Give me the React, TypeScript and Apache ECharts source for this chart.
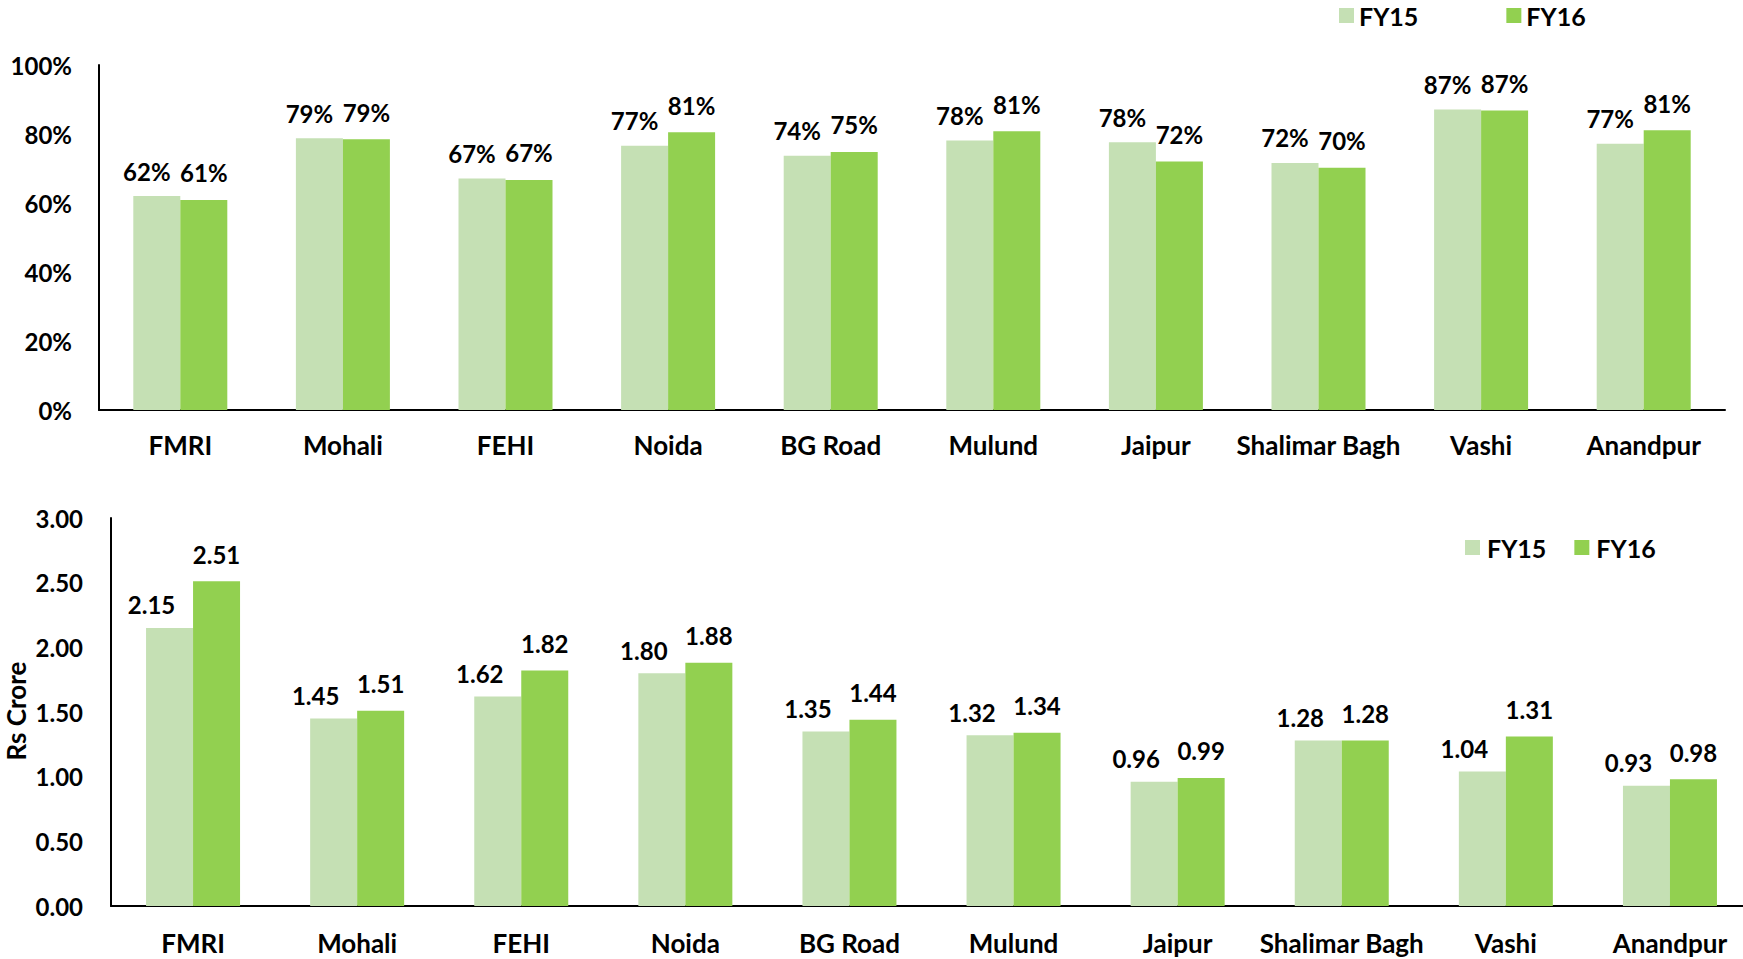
import React, { useEffect, useRef } from "react";
import * as echarts from "echarts";

const categories = ["FMRI", "Mohali", "FEHI", "Noida", "BG Road", "Mulund", "Jaipur", "Shalimar Bagh", "Vashi", "Anandpur"];
const seriesNames = ["FY15", "FY16"];
const occupancyFY15 = [0.62, 0.788, 0.671, 0.766, 0.737, 0.781, 0.776, 0.716, 0.871, 0.772];
const occupancyFY16 = [0.609, 0.785, 0.667, 0.805, 0.748, 0.808, 0.72, 0.702, 0.868, 0.811];
const revenueFY15 = [2.15, 1.45, 1.62, 1.8, 1.35, 1.32, 0.96, 1.28, 1.04, 0.93];
const revenueFY16 = [2.51, 1.51, 1.82, 1.88, 1.44, 1.34, 0.99, 1.28, 1.31, 0.98];
const occupancyTicks = [0, 0.2, 0.4, 0.6, 0.8, 1.0];
const revenueTicks = [0, 0.5, 1.0, 1.5, 2.0, 2.5, 3.0];
const revenueAxisTitle = "Rs Crore";

const LIGHT = "#C5E0B4";
const GREEN = "#92D050";
const FONT = "Lato, 'Open Sans', sans-serif";

export default function App() {
  const ref = useRef<HTMLDivElement>(null);
  useEffect(() => {
    if (!ref.current) return;
    const chart = echarts.init(ref.current, null, { renderer: "svg" });
    const txt = { fontFamily: FONT, fontWeight: "bold" as const, fontSize: 24, color: "#000" };
    const cat = { ...txt, fontSize: 26 };
    const leg = { ...txt, fontSize: 25 };
    const axisLine = { show: true, lineStyle: { color: "#000", width: 2 } };
    const option: any = {
      animation: false,
      backgroundColor: "#fff",
      textStyle: { fontFamily: FONT },
      graphic: [
        {
          type: "text",
          x: 16,
          y: 711,
          rotation: Math.PI / 2,
          style: {
            text: revenueAxisTitle,
            fill: "#000",
            font: `bold 26px ${FONT}`,
            align: "center",
            verticalAlign: "middle",
          },
        },
      ],
      legend: [
        {
          data: seriesNames,
          left: 1334,
          top: -2,
          itemWidth: 15,
          itemHeight: 15,
          itemGap: 88,
          icon: "rect",
          textStyle: { ...leg, padding: [0, 0, 0, 0] },
        },
        {
          data: seriesNames,
          left: 1460,
          top: 530,
          itemWidth: 15,
          itemHeight: 15,
          itemGap: 28,
          icon: "rect",
          textStyle: { ...leg, padding: [0, 0, 0, 2] },
        },
      ],
      grid: [
        { left: 99, top: 65, width: 1626, height: 345, containLabel: false, outerBoundsMode: "none" },
        { left: 111, top: 518, width: 1641, height: 388, containLabel: false, outerBoundsMode: "none" },
      ],
      xAxis: [
        {
          type: "category",
          gridIndex: 0,
          data: categories,
          axisLine,
          axisTick: { show: false },
          axisLabel: { ...cat, interval: 0, margin: 22 },
        },
        {
          type: "category",
          gridIndex: 1,
          data: categories,
          axisLine,
          axisTick: { show: false },
          axisLabel: { ...cat, interval: 0, margin: 24 },
        },
      ],
      yAxis: [
        {
          type: "value",
          gridIndex: 0,
          min: occupancyTicks[0],
          max: occupancyTicks[occupancyTicks.length - 1],
          interval: 0.2,
          axisLine,
          axisTick: { show: false },
          splitLine: { show: false },
          axisLabel: { ...txt, margin: 27, formatter: (v: number) => Math.round(v * 100) + "%" },
        },
        {
          type: "value",
          gridIndex: 1,
          min: revenueTicks[0],
          max: revenueTicks[revenueTicks.length - 1],
          interval: 0.5,
          axisLine,
          axisTick: { show: false },
          splitLine: { show: false },
          axisLabel: { ...txt, margin: 28, formatter: (v: number) => v.toFixed(2) },
        },
      ],
      series: [
        {
          name: "FY15",
          type: "bar",
          xAxisIndex: 0,
          yAxisIndex: 0,
          data: occupancyFY15,
          barWidth: 47,
          barGap: "0%",
          itemStyle: { color: LIGHT },
          label: {
            show: true,
            position: "top",
            distance: 13,
            offset: [-10, 0],
            ...txt,
            formatter: (p: any) => Math.round(p.value * 100) + "%",
          },
        },
        {
          name: "FY16",
          type: "bar",
          xAxisIndex: 0,
          yAxisIndex: 0,
          data: occupancyFY16,
          barWidth: 47,
          barGap: "0%",
          itemStyle: { color: GREEN },
          label: {
            show: true,
            position: "top",
            distance: 15,
            ...txt,
            formatter: (p: any) => Math.round(p.value * 100) + "%",
          },
        },
        {
          name: "FY15",
          type: "bar",
          xAxisIndex: 1,
          yAxisIndex: 1,
          data: revenueFY15,
          barWidth: 47,
          barGap: "0%",
          itemStyle: { color: LIGHT },
          label: {
            show: true,
            position: "top",
            distance: 11,
            offset: [-18, 0],
            ...txt,
            formatter: (p: any) => p.value.toFixed(2),
          },
        },
        {
          name: "FY16",
          type: "bar",
          xAxisIndex: 1,
          yAxisIndex: 1,
          data: revenueFY16,
          barWidth: 47,
          barGap: "0%",
          itemStyle: { color: GREEN },
          label: {
            show: true,
            position: "top",
            distance: 15,
            ...txt,
            formatter: (p: any) => p.value.toFixed(2),
          },
        },
      ],
    };
    chart.setOption(option);
    return () => chart.dispose();
  }, []);
  return (
    <div
      ref={ref}
      style={{ position: "fixed", left: 0, top: 0, width: 1743, height: 959, background: "#fff" }}
    />
  );
}
